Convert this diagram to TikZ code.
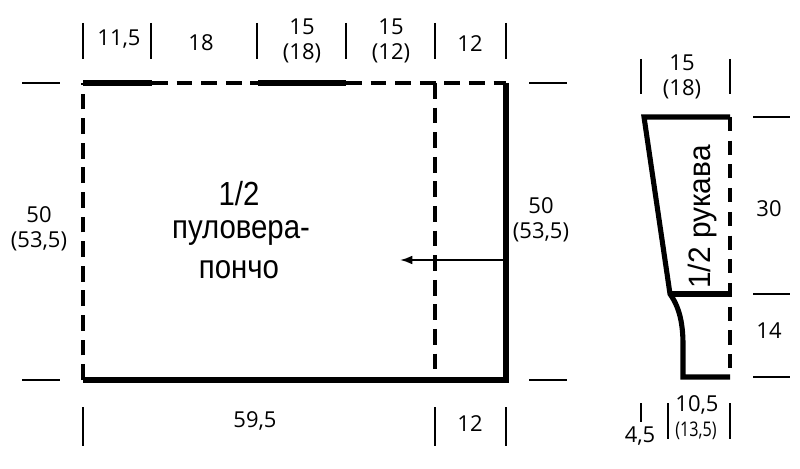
\documentclass[tikz,border=0pt]{standalone}
\usepackage{xcolor}
\usepackage{fontspec}
\setmainfont{Open Sans}
\newfontfamily\narrowFont{Liberation Sans}
\usetikzlibrary{arrows.meta}
\tikzset{
	tickLine/.style={line width=0.85pt},
	cutLine/.style={line width=2.9pt},
	foldLine/.style={line width=2.3pt,dash pattern=on 9pt off 5pt},
	sizeLabel/.style={inner sep=0pt,align=center,font=\fontsize{12.5}{14}\selectfont},
	titleLabel/.style={inner sep=0pt,font=\narrowFont\fontsize{19}{19}\selectfont,xscale=0.88}
}

\begin{document}
\begin{tikzpicture}[x=0.02cm,y=-0.02cm]
	\useasboundingbox (0,0) rectangle (800,469);
	
	% Body - corner points
	\coordinate (bodyTL) at (83,83);
	\coordinate (bodyTR) at (506,83);
	\coordinate (bodyBL) at (83,380);
	\coordinate (bodyBR) at (506,380);
	\coordinate (foldT) at (435,83);
	\coordinate (foldB) at (435,380);
	\coordinate (neckA) at (152,83);
	\coordinate (neckB) at (258,83);
	\coordinate (neckC) at (346,83);
	\coordinate (arrowEnd) at (400,260);
	\coordinate (arrowStart) at (506,260);
	
	\draw[foldLine] (bodyBL) -- (bodyTL);
	\draw[foldLine] (neckA) -- (neckB);
	\draw[foldLine] (neckC) -- (bodyTR);
	\draw[foldLine] (foldT) -- (foldB);
	\draw[cutLine] (bodyTL) -- (neckA);
	\draw[cutLine] (neckB) -- (neckC);
	\draw[cutLine,line join=miter] (bodyTR) -- (bodyBR) -- (bodyBL);
	\draw[line width=1.1pt,-{Latex[length=7pt,width=5pt]}] (arrowStart) -- (arrowEnd);
	
	% Body - ticks
	\foreach \x in {83,151,257,346,435,506} {
		\draw[tickLine] (\x,23) -- (\x,59);
	}
	\foreach \x in {83,435,506} {
		\draw[tickLine] (\x,407) -- (\x,446);
	}
	\foreach \y in {83,380} {
		\draw[tickLine] (22,\y) -- (60,\y);
		\draw[tickLine] (529,\y) -- (567,\y);
	}
	
	% Body - sizes
	\node[sizeLabel] (topA) at (119,39) {11,5};
	\node[sizeLabel] (topB) at (201,43) {18};
	\node[sizeLabel] (topC) at (302,41) {15\\(18)};
	\node[sizeLabel] (topD) at (391,41) {15\\(12)};
	\node[sizeLabel] (topE) at (470,44) {12};
	\node[sizeLabel] (sideL) at (39,229) {50\\(53,5)};
	\node[sizeLabel] (sideR) at (541,220) {50\\(53,5)};
	\node[sizeLabel] (botA) at (255,421) {59,5};
	\node[sizeLabel] (botB) at (470,424) {12};
	
	\node[titleLabel] (bodyTitleA) at (239,194) {1/2};
	\node[titleLabel] (bodyTitleB) at (241,233) {пуловера-};
	\node[titleLabel] (bodyTitleC) at (239,270) {пончо};
	
	% Sleeve - corner points
	\coordinate (slvTL) at (644,117);
	\coordinate (slvTR) at (730,117);
	\coordinate (slvML) at (670,294);
	\coordinate (slvMR) at (730,294);
	\coordinate (slvBL) at (683,377);
	\coordinate (slvBR) at (730,377);
	
	\draw[foldLine,dash pattern=on 8pt off 5.5pt] (slvTR) -- (slvBR);
	\draw[cutLine,line join=miter] (slvTR) -- (slvTL) -- (slvML) .. controls (680,308) and (683,325) .. (683,345) -- (slvBL) -- (slvBR);
	\draw[cutLine] (slvML) -- (slvMR);
	
	% Sleeve - ticks
	\foreach \x in {641,730} {
		\draw[tickLine] (\x,59) -- (\x,94);
	}
	\foreach \x in {668,730} {
		\draw[tickLine] (\x,403) -- (\x,439);
	}
	\draw[tickLine] (641,403) -- (641,422);
	\foreach \y in {117,294,377} {
		\draw[tickLine] (753,\y) -- (790,\y);
	}
	
	% Sleeve - sizes
	\node[sizeLabel] (slvTop) at (682,77) {15\\(18)};
	\node[sizeLabel] (slvA) at (769,209) {30};
	\node[sizeLabel] (slvB) at (769,331) {14};
	\node[sizeLabel] (slvC) at (640,436) {4,5};
	\node[sizeLabel] (slvD) at (697,405) {10,5};
	\node[sizeLabel,font=\fontsize{11.5}{13}\selectfont,xscale=0.8] (slvE) at (696,431) {(13,5)};
	\node[titleLabel,font=\narrowFont\fontsize{20}{20}\selectfont,rotate=90,xscale=0.85] (slvTitle) at (702,217) {1/2 рукава};
\end{tikzpicture}
\end{document}
